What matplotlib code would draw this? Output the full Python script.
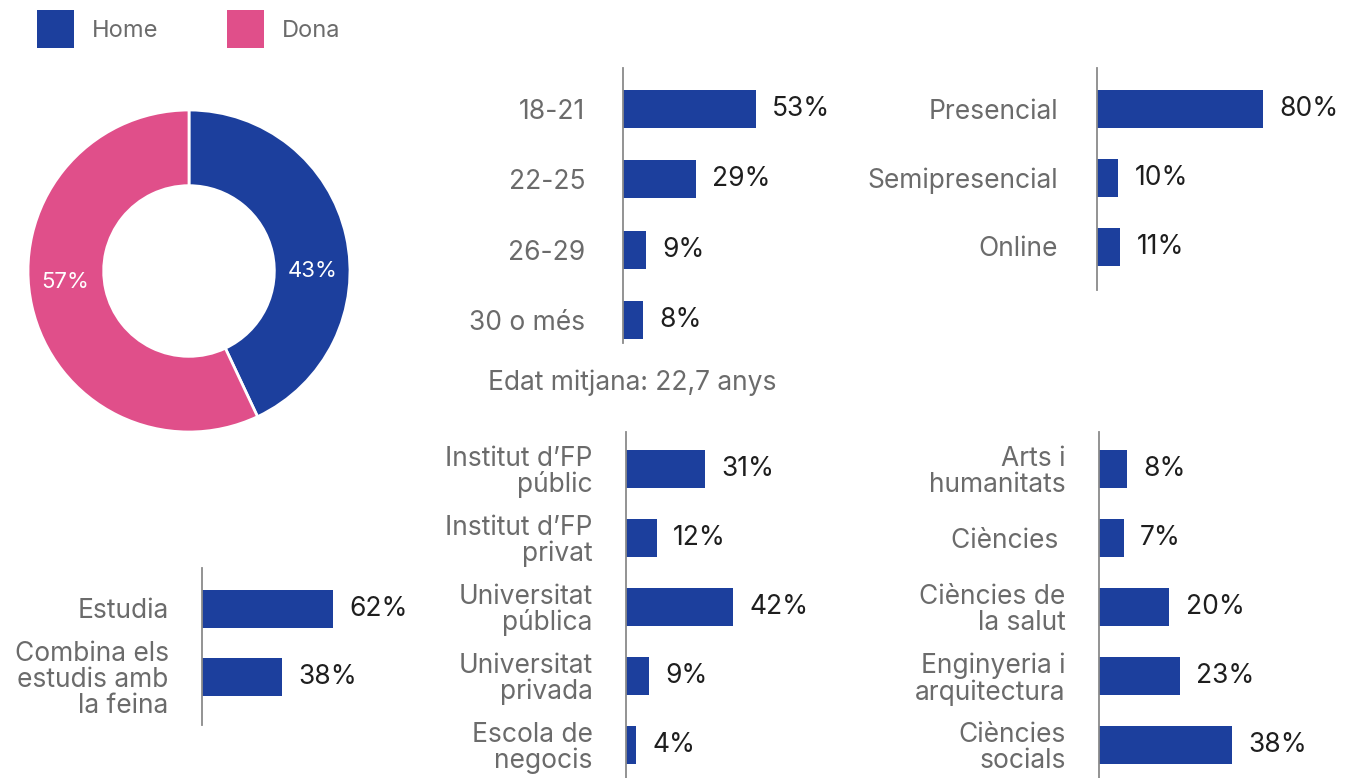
import matplotlib.pyplot as plt
from matplotlib.patches import Patch

plt.rcParams['font.family'] = ['Inter', 'DejaVu Sans']

# data
genere_labels = ["Home", "Dona"]
genere_vals = [43, 57]

edat_labels = ["18-21", "22-25", "26-29", "30 o més"]
edat_vals = [53, 29, 9, 8]

modalitat_labels = ["Presencial", "Semipresencial", "Online"]
modalitat_vals = [80, 10, 11]

situacio_labels = ["Estudia", "Combina els\nestudis amb\nla feina"]
situacio_vals = [62, 38]

centre_labels = ["Institut d\u2019FP\npúblic", "Institut d\u2019FP\nprivat",
                 "Universitat\npública", "Universitat\nprivada", "Escola de\nnegocis"]
centre_vals = [31, 12, 42, 9, 4]

ambit_labels = ["Arts i\nhumanitats", "Ciències ", "Ciències de\nla salut",
                "Enginyeria i\narquitectura", "Ciències\nsocials"]
ambit_vals = [8, 7, 20, 23, 38]

BLUE = "#1c3f9d"
PINK = "#e04f8a"
GREY = "#6b6b6b"
DARK = "#1e1e1e"
W, H = 1355, 778
FS = 19

fig = plt.figure(figsize=(W / 100, H / 100), dpi=100)


def px_axes(x0, y0, x1, y1):
    return fig.add_axes([x0 / W, 1 - y1 / H, (x1 - x0) / W, (y1 - y0) / H])


# donut
cx, cy, R = 189, 271, 161
ax = px_axes(cx - 170, cy - 170, cx + 170, cy + 170)
wedges, _ = ax.pie(genere_vals, colors=[BLUE, PINK], startangle=90, counterclock=False,
                   radius=1, wedgeprops=dict(width=0.47, edgecolor="white", linewidth=2))
ax.set_xlim(-170 / R, 170 / R)
ax.set_ylim(-170 / R, 170 / R)
ax.set_aspect("equal")
ax.text(0.77, 0.0, f"{genere_vals[0]}%", color="white", fontsize=16, ha="center", va="center")
ax.text(-0.77, -0.07, f"{genere_vals[1]}%", color="white", fontsize=16, ha="center", va="center")

handles = [Patch(facecolor=BLUE), Patch(facecolor=PINK)]
fig.legend(handles, genere_labels, loc="upper left", bbox_to_anchor=(16 / W, 1 + 11 / H),
           ncol=2, frameon=False, fontsize=17, labelcolor=GREY,
           handlelength=1.57, handleheight=2.1, handletextpad=0.75, columnspacing=2.9)


def bar_panel(labels, vals, axis_x, top, bottom, first_c, step, pxper, pad):
    width_px = 240
    a = px_axes(axis_x, top, axis_x + width_px, bottom)
    n = len(vals)
    pos = list(range(n))
    bars = a.barh(pos, vals, height=38 / step, color=BLUE)
    a.set_xlim(0, width_px / pxper)
    a.set_ylim((bottom - first_c) / step, -(first_c - top) / step)
    a.set_yticks(pos)
    a.set_yticklabels(labels, fontsize=FS, color=GREY, linespacing=1.0)
    a.tick_params(axis="y", length=0, pad=pad)
    a.set_xticks([])
    for s in ["top", "right", "bottom"]:
        a.spines[s].set_visible(False)
    a.spines["left"].set_color("#8a8a8a")
    a.spines["left"].set_linewidth(1.3)
    a.bar_label(bars, labels=[f"{v}%" for v in vals], padding=12, fontsize=FS, color=DARK)
    a.patch.set_alpha(0)
    return a


bar_panel(edat_labels, edat_vals, 623, 68, 343, 109, 70.3, 2.5, 27)
bar_panel(modalitat_labels, modalitat_vals, 1097, 68, 290, 109, 68.75, 2.075, 28)
bar_panel(situacio_labels, situacio_vals, 202, 568, 725, 608.5, 68.5, 2.11, 24)
bar_panel(centre_labels, centre_vals, 626, 432, 778, 469, 69, 2.55, 24)
bar_panel(ambit_labels, ambit_vals, 1099, 432, 778, 469, 69, 3.5, 24)

fig.text(632 / W, 1 - 383 / H, "Edat mitjana: 22,7 anys", fontsize=FS, color=GREY,
         ha="center", va="center")

fig.savefig("out.png", dpi=100)
